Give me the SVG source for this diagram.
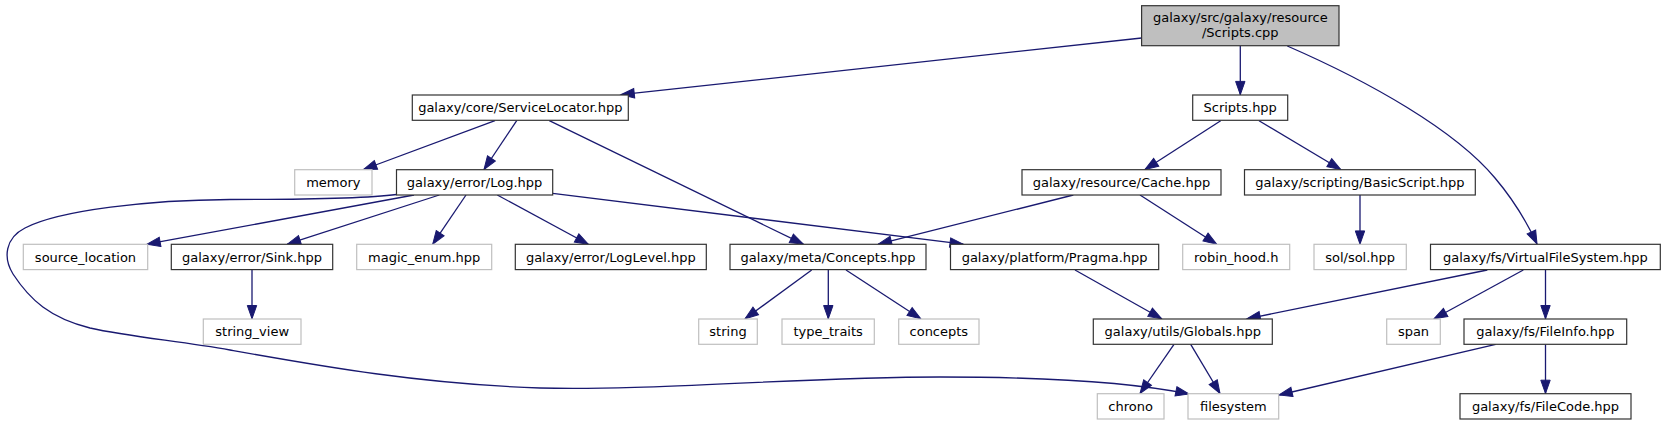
<svg xmlns="http://www.w3.org/2000/svg" width="1666" height="425" viewBox="0 0 1666 425">
<defs>
<style>
.n rect{fill:#fff;stroke:#333;stroke-width:1.2}
.g rect{fill:#fff;stroke:#bfbfbf;stroke-width:1.2}
.r rect{fill:#bfbfbf;stroke:#333;stroke-width:1.2}
text{font-family:"DejaVu Sans","Liberation Sans",sans-serif;font-size:13px;fill:#000;text-anchor:middle}
.e path{fill:none;stroke:#191970;stroke-width:1.3}
</style>
<marker id="a" markerUnits="userSpaceOnUse" markerWidth="16" markerHeight="12" refX="13.3" refY="5" orient="auto" viewBox="-1 0 16 10">
<path d="M0,0.3 L13.3,5 L0,9.7 Z" fill="#191970" stroke="#191970" stroke-width="1"/>
</marker>
</defs>
<rect width="1666" height="425" fill="#fff"/>
<g id="connectors" class="e" marker-end="url(#a)">
<path d="M1141.6,38 L621,94.7" marker-end="url(#a)"/>
<path d="M1240.3,45.7 L1240.3,94.7" marker-end="url(#a)"/>
<path d="M1287.3,46 C1370,82 1455,130 1495,178 C1512,198 1524,216 1537,244" marker-end="url(#a)"/>
<path d="M495,120.7 L363.5,169.5" marker-end="url(#a)"/>
<path d="M516.7,120.7 L484,169.5" marker-end="url(#a)"/>
<path d="M549.3,120.7 L803.3,244.2" marker-end="url(#a)"/>
<path d="M1220.7,120.7 L1145,169.5" marker-end="url(#a)"/>
<path d="M1259,120.7 L1340.7,169.5" marker-end="url(#a)"/>
<path d="M1073.3,195 L878.3,244.2" marker-end="url(#a)"/>
<path d="M1140,195 L1216.7,244.2" marker-end="url(#a)"/>
<path d="M1360,195 L1360,244.2" marker-end="url(#a)"/>
<path d="M414,195 L147,244.2" marker-end="url(#a)"/>
<path d="M439.3,195 L287.3,244.2" marker-end="url(#a)"/>
<path d="M466,195 L432.7,244.2" marker-end="url(#a)"/>
<path d="M497.3,195 L588.3,244.2" marker-end="url(#a)"/>
<path d="M552.7,193.3 L963.3,244.2" marker-end="url(#a)"/>
<path d="M396.5,194.5 C370,198 300,199.5 230,199.5 C150,200 60,210 25,228 C5,238 3,258 13,274 C30,300 50,318 90,328 C130,337 180,341 230,350 C320,366 420,384 540,388 C650,391 800,377 940,377 C1040,377 1130,382 1189,394" marker-end="url(#a)"/>
<path d="M252,270 L252,318.8" marker-end="url(#a)"/>
<path d="M811.7,270 L745,318.8" marker-end="url(#a)"/>
<path d="M828.3,270 L828.3,318.8" marker-end="url(#a)"/>
<path d="M846,270 L920.7,318.8" marker-end="url(#a)"/>
<path d="M1075,270 L1161.7,318.8" marker-end="url(#a)"/>
<path d="M1487.3,270 L1247,318.8" marker-end="url(#a)"/>
<path d="M1523.3,270 L1434,318.8" marker-end="url(#a)"/>
<path d="M1545.5,270 L1545.5,318.8" marker-end="url(#a)"/>
<path d="M1174,344.3 L1140,393.5" marker-end="url(#a)"/>
<path d="M1190.7,344.3 L1220,393.5" marker-end="url(#a)"/>
<path d="M1495.7,344.3 L1279,395" marker-end="url(#a)"/>
<path d="M1545.5,344.3 L1545.5,393.5" marker-end="url(#a)"/>
</g>
<g id="node-root" class="r"><rect x="1141.6" y="5.7" width="197.4" height="40"/><text x="1240.3" y="22">galaxy/src/galaxy/resource</text><text x="1240.3" y="37">/Scripts.cpp</text></g>
<g id="node-servicelocator" class="n"><rect x="412.3" y="95" width="216" height="25.3"/><text x="520.3" y="112.2">galaxy/core/ServiceLocator.hpp</text></g>
<g id="node-scriptshpp" class="n"><rect x="1192.7" y="95" width="95" height="25.3"/><text x="1240.2" y="112.2">Scripts.hpp</text></g>
<g id="node-memory" class="g"><rect x="294.7" y="169.7" width="77.3" height="25.3"/><text x="333.35" y="186.8">memory</text></g>
<g id="node-log" class="n"><rect x="396.5" y="169.7" width="156.2" height="25.3"/><text x="474.6" y="186.8">galaxy/error/Log.hpp</text></g>
<g id="node-cache" class="n"><rect x="1022" y="169.7" width="199" height="25.3"/><text x="1121.5" y="186.8">galaxy/resource/Cache.hpp</text></g>
<g id="node-basicscript" class="n"><rect x="1244.5" y="169.7" width="230.8" height="25.3"/><text x="1359.9" y="186.8">galaxy/scripting/BasicScript.hpp</text></g>
<g id="node-source_location" class="g"><rect x="23.3" y="244.3" width="124.4" height="25.3"/><text x="85.5" y="261.5">source_location</text></g>
<g id="node-sink" class="n"><rect x="171.3" y="244.3" width="161.4" height="25.3"/><text x="252" y="261.5">galaxy/error/Sink.hpp</text></g>
<g id="node-magic_enum" class="g"><rect x="356.7" y="244.3" width="135" height="25.3"/><text x="424.2" y="261.5">magic_enum.hpp</text></g>
<g id="node-loglevel" class="n"><rect x="515.3" y="244.3" width="191" height="25.3"/><text x="610.8" y="261.5">galaxy/error/LogLevel.hpp</text></g>
<g id="node-concepts-hpp" class="n"><rect x="730" y="244.3" width="196" height="25.3"/><text x="828" y="261.5">galaxy/meta/Concepts.hpp</text></g>
<g id="node-pragma" class="n"><rect x="950.5" y="244.3" width="208.2" height="25.3"/><text x="1054.6" y="261.5">galaxy/platform/Pragma.hpp</text></g>
<g id="node-robin_hood" class="g"><rect x="1182.7" y="244.3" width="107" height="25.3"/><text x="1236.2" y="261.5">robin_hood.h</text></g>
<g id="node-sol" class="g"><rect x="1314" y="244.3" width="92.3" height="25.3"/><text x="1360.15" y="261.5">sol/sol.hpp</text></g>
<g id="node-vfs" class="n"><rect x="1430.5" y="244.3" width="229.8" height="25.3"/><text x="1545.4" y="261.5">galaxy/fs/VirtualFileSystem.hpp</text></g>
<g id="node-string_view" class="g"><rect x="203.3" y="319" width="97.7" height="25.3"/><text x="252.15" y="336.2">string_view</text></g>
<g id="node-string" class="g"><rect x="698.7" y="319" width="58.6" height="25.3"/><text x="728" y="336.2">string</text></g>
<g id="node-type_traits" class="g"><rect x="782" y="319" width="92.3" height="25.3"/><text x="828.15" y="336.2">type_traits</text></g>
<g id="node-concepts" class="g"><rect x="898.7" y="319" width="80.3" height="25.3"/><text x="938.85" y="336.2">concepts</text></g>
<g id="node-globals" class="n"><rect x="1093.3" y="319" width="179" height="25.3"/><text x="1182.8" y="336.2">galaxy/utils/Globals.hpp</text></g>
<g id="node-span" class="g"><rect x="1386.7" y="319" width="53.6" height="25.3"/><text x="1413.5" y="336.2">span</text></g>
<g id="node-fileinfo" class="n"><rect x="1464" y="319" width="162.7" height="25.3"/><text x="1545.35" y="336.2">galaxy/fs/FileInfo.hpp</text></g>
<g id="node-chrono" class="g"><rect x="1097.3" y="393.7" width="66.7" height="25.3"/><text x="1130.65" y="410.8">chrono</text></g>
<g id="node-filesystem" class="g"><rect x="1188" y="393.7" width="90.7" height="25.3"/><text x="1233.35" y="410.8">filesystem</text></g>
<g id="node-filecode" class="n"><rect x="1460" y="393.7" width="171" height="25.3"/><text x="1545.5" y="410.8">galaxy/fs/FileCode.hpp</text></g>
</svg>
